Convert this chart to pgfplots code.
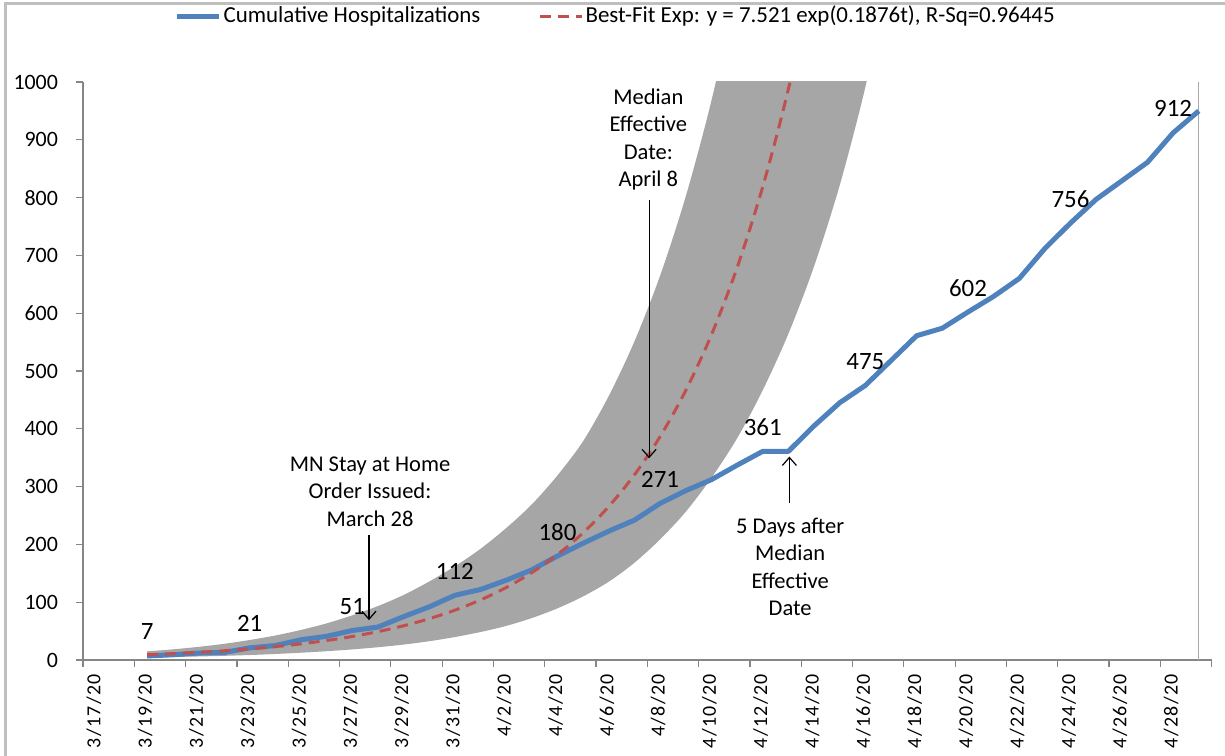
\documentclass[border=0pt]{standalone}
\usepackage{fontspec}
\setmainfont{Carlito}
\newfontfamily\xtickfont[LetterSpace=7]{Carlito}
\usepackage{pgfplots}
\pgfplotsset{compat=1.18}
\usepgfplotslibrary{fillbetween}
\usetikzlibrary{arrows.meta}
\definecolor{xlblue}{HTML}{4F81BD}
\definecolor{xlred}{HTML}{C0504D}
\definecolor{bandgray}{HTML}{A6A6A6}
\definecolor{axgray}{HTML}{868686}
\definecolor{framegray}{HTML}{BFBFBF}
\begin{document}
\begin{tikzpicture}
\draw[framegray, line width=1.5bp] (2.5bp,-10bp) -- (2.5bp,376bp) -- (630bp,376bp);
\begin{axis}[
  at={(41.5bp,48bp)}, anchor=south west,
  scale only axis, width=564.3bp, height=289bp,
  xmin=-0.5, xmax=43.5, ymin=0, ymax=1000,
  axis x line*=bottom, axis y line*=left,
  axis line style={axgray, line width=0.6bp, -},
  ytick={0,100,...,1000},
  xtick={0,2,...,42},
  xticklabels={3/17/20,3/19/20,3/21/20,3/23/20,3/25/20,3/27/20,3/29/20,3/31/20,4/2/20,4/4/20,4/6/20,4/8/20,4/10/20,4/12/20,4/14/20,4/16/20,4/18/20,4/20/20,4/22/20,4/24/20,4/26/20,4/28/20},
  major x tick style={draw=none},
  minor xtick={-0.5,1.5,...,43.5},
  tick align=outside,
  tick style={axgray, line width=0.6bp},
  major tick length=3.5bp, minor tick length=3.5bp,
  x tick label style={rotate=90, anchor=east, yshift=1bp, font=\xtickfont\fontsize{10}{12}\selectfont},
  y tick label style={xshift=-5.5bp, font=\fontsize{11}{12}\selectfont},
  /pgf/number format/assume math mode=true,
  /pgf/number format/1000 sep={},
  legend columns=2,
  legend style={draw=none, fill=none, at={(0.472,1.114)}, anchor=center,
    font=\fontsize{11.5}{13}\selectfont,
    /tikz/every even column/.append style={column sep=28bp},
    nodes={inner xsep=1bp}},
  legend cell align=left,
  legend image code/.code={\draw[#1] (0bp,0bp) -- (21bp,0bp);},
]
% confidence band
\addplot[name path=U, draw=none, smooth, forget plot] coordinates {
(2,15.0)(3,18.4)(4,22.7)(5,28.0)(6,34.6)(7,42.4)(8,52.0)(9,63.4)(10,77.3)(11,93.3)(12,112.5)(13,135.8)(14,162.1)(15,192.4)(16,228.3)(17,269.3)(18,319.5)(19,378.7)(20,457.0)(21,551.3)(22,665.0)(23,802.2)(24,967.7)(25,1167.4)(26,1408)};
\addplot[name path=L, draw=none, smooth, forget plot] coordinates {
(2,4.5)(3,5.3)(4,6.1)(5,7.2)(6,8.6)(7,10.4)(8,12.6)(9,15.2)(10,18.3)(11,22.1)(12,26.7)(13,32.5)(14,39.7)(15,48.4)(16,59.0)(17,72.6)(18,89.4)(19,110.1)(20,135.5)(21,168.3)(22,208.8)(23,256.5)(24,315.1)(25,383.5)(26,466.7)(27,564.4)(28,680.9)(29,821.1)(30,990.9)(31,1195)(32,1441)};
\addplot[bandgray, forget plot] fill between[of=U and L];
% vertical line at last date
\draw[axgray!70, line width=0.6bp] (axis cs:43,0) -- (axis cs:43,1000);
% data
\addplot[xlblue, line width=2.5bp, line join=round] coordinates {
(2,7)(3,9)(4,12)(5,13)(6,21)(7,25)(8,35)(9,41)(10,51)(11,57)(12,75)(13,92)(14,112)(15,122)(16,138)(17,156)(18,180)(19,202)(20,223)(21,242)(22,271)(23,293)(24,312)(25,337)(26,361)(27,361)(28,405)(29,445)(30,475)(31,518)(32,561)(33,574)(34,602)(35,629)(36,660)(37,712)(38,756)(39,797)(40,829)(41,861)(42,912)(43,950)};
\addlegendentry{Cumulative Hospitalizations}
\addplot[xlred, line width=1.5bp, dash pattern=on 5.5bp off 3.5bp, smooth] coordinates {
(2,9.07)(3,10.95)(4,13.21)(5,15.93)(6,19.22)(7,23.18)(8,27.97)(9,33.74)(10,40.70)(11,49.10)(12,59.23)(13,71.45)(14,86.20)(15,103.98)(16,125.44)(17,151.32)(18,182.55)(19,220.2)(20,265.7)(21,320.5)(22,386.6)(23,466.4)(24,562.6)(25,678.7)(26,818.7)(27,987.7)(28,1191.5)};
\addlegendentry{Best-Fit Exp: y = 7.521 exp(0.1876t), R-Sq=0.96445}
% data labels
\addplot[draw=none, forget plot, nodes near coords, point meta=explicit symbolic,
  nodes near coords style={anchor=center, yshift=12bp, font=\fontsize{12.5}{14}\selectfont, text=black}]
  coordinates {(2,7)[7] (6,21)[21] (10,51)[51] (14,112)[112] (18,180)[180] (22,271)[271] (26,361)[361] (30,475)[475] (34,602)[602] (38,756)[756] (42,912)[912]};
% annotations
\node[align=center, font=\fontsize{11.3}{13.8}\selectfont] at (axis cs:10.69,291.5) {MN Stay at Home\\Order Issued:\\March 28};
\draw[-{Straight Barb[length=4bp,width=7bp]}, line width=0.6bp] (axis cs:10.65,216) -- (axis cs:10.65,69);
\node[align=center, font=\fontsize{11.3}{13.8}\selectfont] at (axis cs:21.54,900.5) {Median\\Effective\\Date:\\April 8};
\draw[-{Straight Barb[length=4bp,width=7bp]}, line width=0.6bp] (axis cs:21.57,796) -- (axis cs:21.57,349);
\node[align=center, font=\fontsize{11.3}{13.8}\selectfont] at (axis cs:27.07,161.3) {5 Days after\\Median\\Effective\\Date};
\draw[-{Straight Barb[length=4bp,width=7bp]}, line width=0.6bp] (axis cs:27.04,272) -- (axis cs:27.04,352);
\end{axis}
\pgfresetboundingbox
\useasboundingbox (0,0) rectangle (612.5bp,378bp);
\end{tikzpicture}
\end{document}
